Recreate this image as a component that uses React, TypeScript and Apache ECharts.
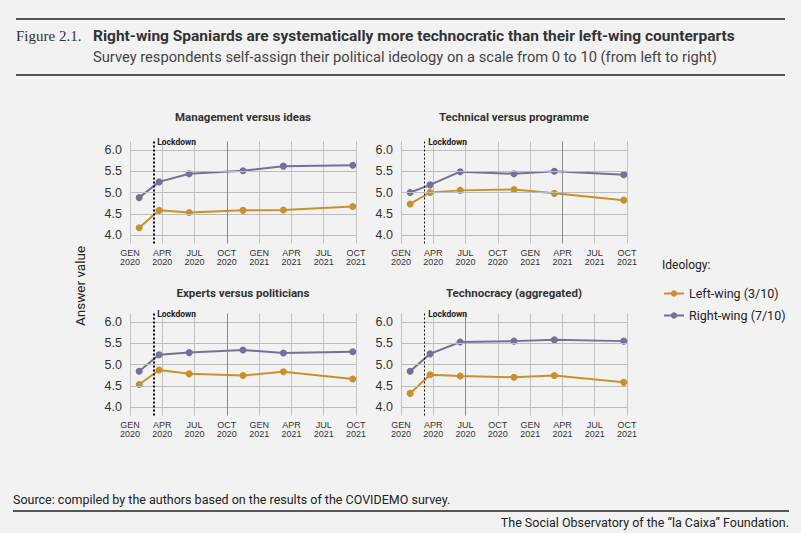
import React, { useEffect, useRef } from "react";
import * as echarts from "echarts";

// Quarter tick labels (x axis: months since January 2020)
const tickMonths = ["GEN", "APR", "JUL", "OCT", "GEN", "APR", "JUL", "OCT"];
const tickYears = ["2020", "2020", "2020", "2020", "2021", "2021", "2021", "2021"];
// Survey waves, in months since 1 January 2020
const waveMonths = [0.85, 2.7, 5.5, 10.5, 14.25, 20.7];
const lockdownMonth = 2.2;

const panelTitles = [
  "Management versus ideas",
  "Technical versus programme",
  "Experts versus politicians",
  "Technocracy (aggregated)",
];

const leftWing1 = [4.17, 4.58, 4.53, 4.58, 4.59, 4.67];
const rightWing1 = [4.88, 5.25, 5.44, 5.51, 5.62, 5.64];
const leftWing2 = [4.73, 5.0, 5.05, 5.07, 4.98, 4.82];
const rightWing2 = [5.0, 5.18, 5.49, 5.44, 5.5, 5.42];
const leftWing3 = [4.53, 4.87, 4.78, 4.74, 4.83, 4.66];
const rightWing3 = [4.84, 5.23, 5.28, 5.34, 5.27, 5.3];
const leftWing4 = [4.32, 4.76, 4.73, 4.7, 4.74, 4.58];
const rightWing4 = [4.84, 5.25, 5.53, 5.55, 5.58, 5.55];

const leftSeries = [leftWing1, leftWing2, leftWing3, leftWing4];
const rightSeries = [rightWing1, rightWing2, rightWing3, rightWing4];
const darkGridMonth = [9, 15, 9, 6];
const gridValues = [4.0, 4.5, 5.0, 5.5, 6.0];

const LEFT_NAME = "Left-wing (3/10)";
const RIGHT_NAME = "Right-wing (7/10)";
const ORANGE = "#c8912c";
const PURPLE = "#727298";

export default function App() {
  const ref = useRef<HTMLDivElement>(null);
  useEffect(() => {
    if (!ref.current) return;
    const chart = echarts.init(ref.current, undefined, { renderer: "svg" });
    const gridPos = [
      { left: 130, top: 141.5 },
      { left: 401, top: 141.5 },
      { left: 130, top: 313.5 },
      { left: 401, top: 313.5 },
    ];
    const grids = gridPos.map((g) => ({ left: g.left, top: g.top, width: 226, height: 102 }));
    const xAxes = gridPos.map((_, i) => ({
      type: "value",
      gridIndex: i,
      min: 0,
      max: 21,
      interval: 3,
      axisLine: { show: false },
      axisTick: { show: false },
      splitLine: { show: true, lineStyle: { color: "#c2c2c2", width: 1 } },
      axisLabel: {
        margin: 5,
        fontSize: 9,
        lineHeight: 9,
        color: "#333",
        fontFamily: "Liberation Sans, Arial, sans-serif",
        formatter: (v: number) => {
          const k = Math.round(v / 3);
          return tickMonths[k] + "\n" + tickYears[k];
        },
      },
    }));
    const yAxes = gridPos.map((_, i) => ({
      type: "value",
      gridIndex: i,
      min: 3.8,
      max: 6.2,
      interval: 0.1,
      axisLine: { show: false },
      axisTick: { show: false },
      splitLine: { show: false },
      axisLabel: {
        margin: 8,
        fontSize: 12.5,
        color: "#333",
        fontFamily: "Liberation Sans, Arial, sans-serif",
        formatter: (v: number) => {
          const r = Math.round(v * 10);
          return r % 5 === 0 && r >= 40 && r <= 60 ? (r / 10).toFixed(1) : "";
        },
      },
    }));
    const series: any[] = [];
    gridPos.forEach((_, i) => {
      series.push({
        type: "line",
        xAxisIndex: i,
        yAxisIndex: i,
        data: [],
        z: 1,
        silent: true,
        markLine: {
          silent: true,
          symbol: "none",
          animation: false,
          label: { show: false },
          lineStyle: { color: "#bcbcbc", width: 1, type: "solid" },
          data: [
            ...gridValues.map((v) => ({ yAxis: v })),
            { xAxis: darkGridMonth[i], lineStyle: { color: "#8a8a8a", width: 1, type: "solid" } },
            {
              xAxis: lockdownMonth,
              lineStyle: { color: "#111", width: i % 2 === 0 ? 2 : 1, type: [2, 2] },
            },
          ],
        },
        markPoint: {
          silent: true,
          animation: false,
          data: [
            {
              coord: [lockdownMonth, 6.2],
              symbol: "circle",
              symbolSize: 1,
              itemStyle: { color: "rgba(0,0,0,0)" },
              label: {
                show: true,
                position: "right",
                distance: 3,
                formatter: "Lockdown",
                fontSize: 8.5,
                fontWeight: "bold",
                color: "#222",
                fontFamily: "Roboto, sans-serif",
              },
            },
          ],
        },
      });
      series.push({
        name: LEFT_NAME,
        type: "line",
        xAxisIndex: i,
        yAxisIndex: i,
        z: 3,
        data: waveMonths.map((m, k) => [m, leftSeries[i][k]]),
        symbol: "circle",
        symbolSize: 7,
        color: ORANGE,
        lineStyle: { width: 2, color: ORANGE },
        itemStyle: { color: ORANGE },
      });
      series.push({
        name: RIGHT_NAME,
        type: "line",
        xAxisIndex: i,
        yAxisIndex: i,
        z: 3,
        data: waveMonths.map((m, k) => [m, rightSeries[i][k]]),
        symbol: "circle",
        symbolSize: 7,
        color: PURPLE,
        lineStyle: { width: 2, color: PURPLE },
        itemStyle: { color: PURPLE },
      });
    });

    const titleFont = "Roboto, sans-serif";
    const graphics: any[] = [
      { type: "line", shape: { x1: 16, y1: 19, x2: 785, y2: 19 }, style: { stroke: "#555", lineWidth: 2 } },
      { type: "line", shape: { x1: 16, y1: 75, x2: 785, y2: 75 }, style: { stroke: "#555", lineWidth: 2 } },
      {
        type: "text",
        x: 16,
        y: 36,
        style: { text: "Figure 2.1.", font: "15px 'Liberation Serif', serif", fill: "#333", verticalAlign: "middle" },
      },
      {
        type: "text",
        x: 93,
        y: 36,
        style: {
          text: "Right-wing Spaniards are systematically more technocratic than their left-wing counterparts",
          font: "bold 15.5px " + titleFont,
          fill: "#333",
          verticalAlign: "middle",
        },
      },
      {
        type: "text",
        x: 93,
        y: 57,
        style: {
          text: "Survey respondents self-assign their political ideology on a scale from 0 to 10 (from left to right)",
          font: "14.7px " + titleFont,
          fill: "#444",
          verticalAlign: "middle",
        },
      },
      ...panelTitles.map((t, i) => ({
        type: "text",
        x: gridPos[i].left + 113,
        y: i < 2 ? 117 : 293,
        style: { text: t, font: "bold 11.5px " + titleFont, fill: "#333", align: "center", verticalAlign: "middle" },
      })),
      {
        type: "text",
        x: 80,
        y: 286,
        rotation: Math.PI / 2,
        style: { text: "Answer value", font: "13.5px " + titleFont, fill: "#222", align: "center", verticalAlign: "middle" },
      },
      {
        type: "text",
        x: 662,
        y: 265,
        style: { text: "Ideology:", font: "12px " + titleFont, fill: "#222", verticalAlign: "middle" },
      },
      {
        type: "text",
        x: 13,
        y: 499,
        style: {
          text: "Source: compiled by the authors based on the results of the COVIDEMO survey.",
          font: "12.5px " + titleFont,
          fill: "#222",
          verticalAlign: "middle",
        },
      },
      { type: "line", shape: { x1: 13, y1: 511, x2: 789, y2: 511 }, style: { stroke: "#555", lineWidth: 2 } },
      {
        type: "text",
        x: 789,
        y: 522,
        style: {
          text: "The Social Observatory of the \u201cla Caixa\u201d Foundation.",
          font: "12.5px " + titleFont,
          fill: "#222",
          align: "right",
          verticalAlign: "middle",
        },
      },
    ];

    chart.setOption({
      animation: false,
      backgroundColor: "#f2f2f2",
      grid: grids,
      xAxis: xAxes,
      yAxis: yAxes,
      legend: {
        orient: "vertical",
        left: 658,
        top: 282,
        itemWidth: 20,
        itemHeight: 8,
        itemGap: 9,
        data: [LEFT_NAME, RIGHT_NAME],
        textStyle: { fontSize: 12.5, color: "#222", fontFamily: titleFont },
      },
      series,
      graphic: graphics,
    });
    return () => chart.dispose();
  }, []);
  return (
    <div style={{ position: "absolute", left: 0, top: 0, width: 801, height: 533, background: "#f2f2f2" }}>
      <div ref={ref} style={{ width: 801, height: 533 }} />
    </div>
  );
}
